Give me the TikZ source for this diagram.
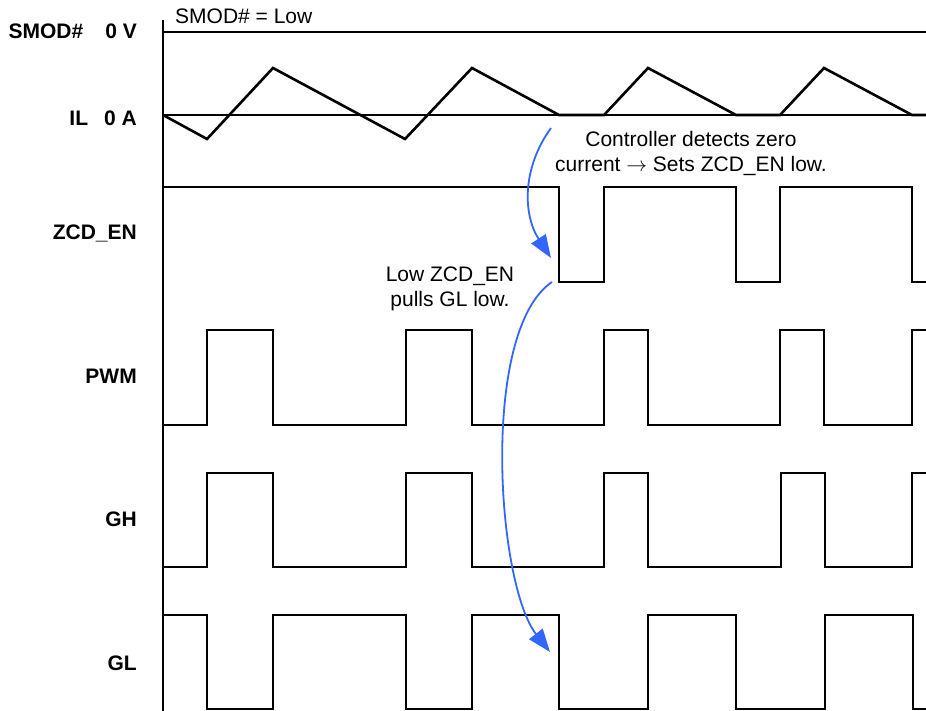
\documentclass[tikz,border=0pt]{standalone}
\usepackage{fontspec}
\setmainfont{Liberation Sans}
\usepackage{xcolor}
\usetikzlibrary{arrows.meta}
\definecolor{causeblue}{HTML}{3366FF}

\begin{document}
\begin{tikzpicture}[
  x=1pt, y=1pt,
  axis/.style={line width=1.8pt},
  wave/.style={line width=2.6pt},
  sig/.style={anchor=base east, inner sep=0pt, font=\bfseries\fontsize{21}{25}\selectfont},
  note/.style={inner sep=0pt, align=center, font=\fontsize{21}{25}\selectfont},
  cause/.style={-{Triangle[length=23pt, width=17pt]}, line width=1.8pt, draw=causeblue}
]
  \useasboundingbox (0,0) rectangle (926,-711);

  % axis and reference levels
  \draw[axis] (163,-20) -- (163,-711);
  \draw[axis] (163,-32) -- (926,-32);
  \draw[axis] (163,-115) -- (926,-115);

  % signal names
  \node[sig] (smod) at (137,-39) {SMOD\#\hspace{22pt}0 V};
  \node[sig] (il) at (137,-126) {IL\hspace{16pt}0 A};
  \node[sig] (zcd) at (137,-240) {ZCD\_EN};
  \node[sig] (pwm) at (137,-383) {PWM};
  \node[sig] (gh) at (137,-526) {GH};
  \node[sig] (gl) at (137,-670) {GL};
  \node[inner sep=0pt, anchor=base west, font=\fontsize{21}{25}\selectfont] (smodlow) at (175,-24) {SMOD\# = Low};

  % waveforms
  \draw[wave] (163,-115) -- (207,-139) -- (273,-68) -- (405,-139) -- (472,-68) -- (559,-115)
    -- (604,-115) -- (648,-68) -- (736,-115) -- (780,-115) -- (824,-68) -- (912,-115) -- (926,-115);
  \draw[wave] (163,-187) -| (559,-282) -| (604,-187) -| (736,-282) -| (780,-187) -| (912,-282) -- (926,-282);
  \draw[wave] (163,-425) -| (207,-330) -| (273,-425) -| (406,-330) -| (472,-425) -| (604,-330)
    -| (648,-425) -| (780,-330) -| (824,-425) -| (912,-330) -- (926,-330);
  \draw[wave] (163,-567) -| (207,-473) -| (273,-567) -| (406,-473) -| (472,-567) -| (604,-473)
    -| (648,-567) -| (781,-473) -| (825,-567) -| (912,-473) -- (926,-473);
  \draw[wave] (163,-615) -| (207,-709) -| (273,-615) -| (406,-709) -| (472,-615) -| (559,-709)
    -| (648,-615) -| (736,-709) -| (825,-615) -| (913,-709) -- (926,-709);

  % annotations
  \node[note] (zcdnote) at (691,-153) {Controller detects zero\\current $\rightarrow$ Sets ZCD\_EN low.};
  \node[note] (glnote) at (450,-289) {Low ZCD\_EN\\pulls GL low.};

  \coordinate (zerodet) at (551,-128);
  \coordinate (zcdlow) at (551,-258);
  \coordinate (zcdsrc) at (552,-282);
  \coordinate (gllow) at (550,-652);
  \draw[cause] (zerodet) to[out=234, in=123] (zcdlow);
  \draw[cause] (zcdsrc) to[out=214, in=128, looseness=0.6] (gllow);
\end{tikzpicture}
\end{document}
